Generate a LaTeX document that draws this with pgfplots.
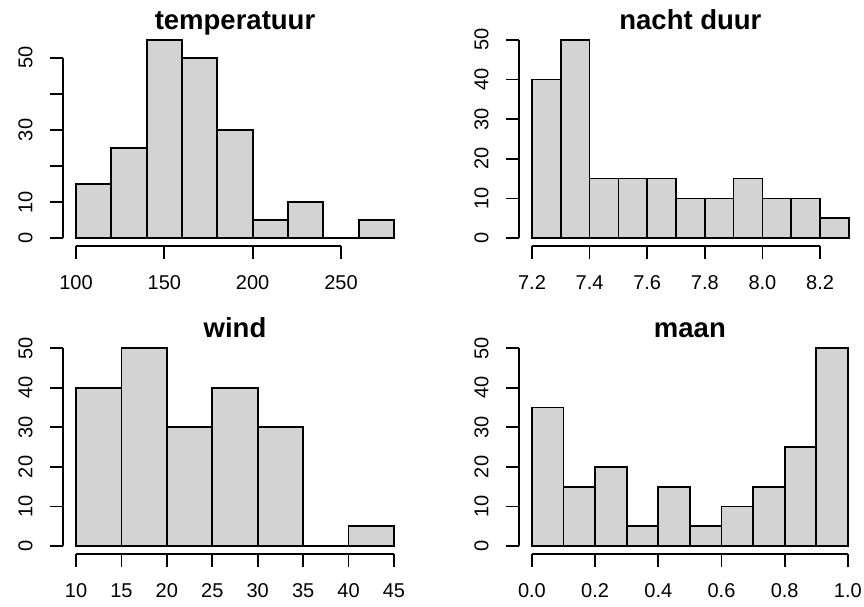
\documentclass[border=0pt]{standalone}
\usepackage{fontspec}
\setmainfont{Liberation Sans}
\usepackage{pgfplots}
\pgfplotsset{compat=1.18}
\definecolor{histgray}{HTML}{D3D3D3}
\pgfplotsset{
  rhist/.style={
    scale only axis,
    anchor=south west,
    clip=false,
    axis x line*=bottom,
    axis y line*=left,
    axis line style={draw=none},
    tick align=outside,
    major tick length=13pt,
    tick style={draw=black, line width=1.7pt},
    xtick pos=bottom, ytick pos=left,
    ytick={0,10,20,30,40,50},
    tick label style={font=\fontsize{20}{24}\selectfont},
    yticklabel style={rotate=90, anchor=base},
    xticklabel style={anchor=base},
    xticklabel shift=30pt,
    yticklabel shift=18pt,
    every axis title shift=0pt,
    title style={at={(0.5,1)}, anchor=base, yshift=2.5pt, font=\fontsize{27.5}{32}\selectfont\bfseries},
  },
  rbar/.style={ybar interval, fill=histgray, draw=black, line width=1.7pt},
}
\begin{document}
\begin{tikzpicture}
\useasboundingbox (0pt,0pt) rectangle (864pt,606pt);
% temperatuur
\begin{axis}[rhist, at={(63.3pt,360pt)}, width=343.4pt, height=214.2pt,
  xmin=92.8, xmax=287.2, ymin=-2.2, ymax=57.2,
  xtick={100,150,200,250}, xticklabels={100,150,200,250},
  yticklabels={0,10,,30,,50},
  title={temperatuur}]
\addplot[rbar] coordinates {(100,15) (120,25) (140,55) (160,50) (180,30) (200,5) (220,10) (240,0) (260,5) (280,0)};
\draw[line width=1.7pt] (100,-2.2) -- (250,-2.2);
\draw[line width=1.7pt] (92.8,0) -- (92.8,50);
\end{axis}
% nacht duur
\begin{axis}[rhist, at={(519.3pt,360pt)}, width=342.2pt, height=214.2pt,
  xmin=7.156, xmax=8.344, ymin=-2, ymax=52,
  xtick={7.2,7.4,7.6,7.8,8.0,8.2}, xticklabels={7.2,7.4,7.6,7.8,8.0,8.2},
  yticklabels={0,10,20,30,40,50},
  title={nacht duur}]
\addplot[rbar] coordinates {(7.2,40) (7.3,50) (7.4,15) (7.5,15) (7.6,15) (7.7,10) (7.8,10) (7.9,15) (8.0,10) (8.1,10) (8.2,5) (8.3,0)};
\draw[line width=1.7pt] (7.2,-2) -- (8.2,-2);
\draw[line width=1.7pt] (7.156,0) -- (7.156,50);
\end{axis}
% wind
\begin{axis}[rhist, at={(63.3pt,52pt)}, width=343.4pt, height=213.8pt,
  xmin=8.6, xmax=46.4, ymin=-2, ymax=52,
  xtick={10,15,20,25,30,35,40,45}, xticklabels={10,15,20,25,30,35,40,45},
  yticklabels={0,10,20,30,40,50},
  title={wind}]
\addplot[rbar] coordinates {(10,40) (15,50) (20,30) (25,40) (30,30) (35,0) (40,5) (45,0)};
\draw[line width=1.7pt] (10,-2) -- (45,-2);
\draw[line width=1.7pt] (8.6,0) -- (8.6,50);
\end{axis}
% maan
\begin{axis}[rhist, at={(519.3pt,52pt)}, width=341.2pt, height=213.8pt,
  xmin=-0.04, xmax=1.04, ymin=-2, ymax=52,
  xtick={0,0.2,0.4,0.6,0.8,1.0}, xticklabels={0.0,0.2,0.4,0.6,0.8,1.0},
  yticklabels={0,10,20,30,40,50},
  title={maan}]
\addplot[rbar] coordinates {(0,35) (0.1,15) (0.2,20) (0.3,5) (0.4,15) (0.5,5) (0.6,10) (0.7,15) (0.8,25) (0.9,50) (1.0,0)};
\draw[line width=1.7pt] (0,-2) -- (1,-2);
\draw[line width=1.7pt] (-0.04,0) -- (-0.04,50);
\end{axis}
\end{tikzpicture}
\end{document}
